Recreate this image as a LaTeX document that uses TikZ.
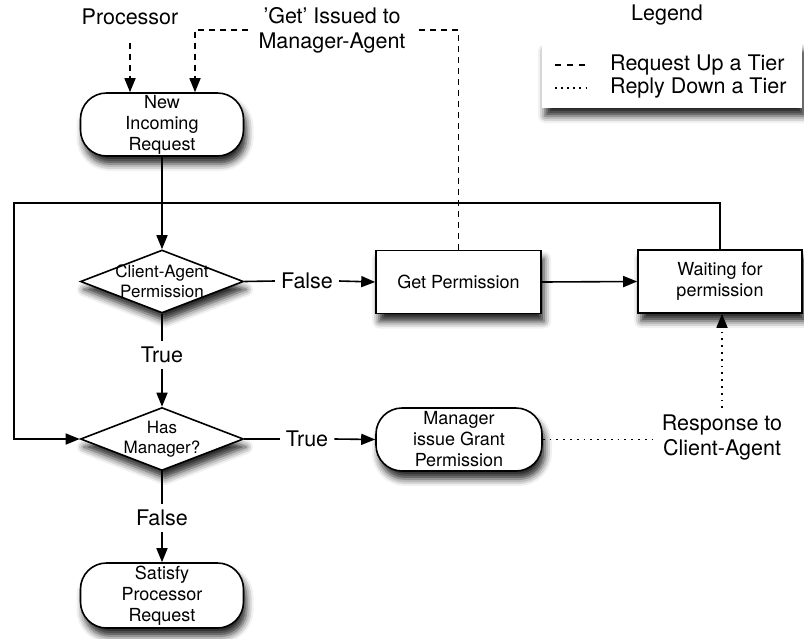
\documentclass[tikz,border=0pt]{standalone}
\usepackage{fontspec}
\setmainfont{TeX Gyre Heros}
\usetikzlibrary{arrows.meta,shapes.geometric,shadows.blur,calc}

\tikzset{
  base/.style={draw=black, line width=1.6pt, fill=white,
    blur shadow={shadow xshift=3pt, shadow yshift=-8pt,
                 shadow blur radius=7pt, shadow opacity=85}},
  inner/.style={font=\fontsize{18}{21}\selectfont, align=center},
  pill/.style={base, inner, rectangle, rounded corners=26pt,
    minimum width=163pt, minimum height=63pt, inner sep=0pt},
  procbox/.style={base, inner, rectangle,
    minimum width=165pt, minimum height=63pt, inner sep=0pt},
  decision/.style={base, diamond, minimum width=163pt,
    minimum height=63pt, inner sep=0pt},
  dtext/.style={align=center, font=\fontsize{17}{20}\selectfont, inner sep=0pt},
  lbl/.style={align=center, font=\fontsize{21.5}{25}\selectfont, inner sep=6pt},
  flow/.style={line width=1.6pt, draw=black},
  tip/.style={-{Triangle[length=14pt,width=11pt]}},
  request/.style={flow, dash pattern=on 6pt off 5pt},
  reply/.style={flow, dash pattern=on 1.8pt off 5pt},
}

\begin{document}
\begin{tikzpicture}[x=1pt, y=-1pt]
\useasboundingbox (0,0) rectangle (804,638);

% legend
\node[lbl] (legendtitle) at (667,15) {Legend};
\node[base, draw=none, rectangle,
      minimum width=260pt, minimum height=65pt] (legendbox) at (672,75.5) {};
\draw[flow, line width=1.3pt, dash pattern=on 6pt off 6pt] (555,65) -- (586,65);
\draw[flow, line width=1.3pt, dash pattern=on 1.6pt off 4.5pt] (555,88) -- (589,88);
\node[lbl, anchor=west, inner sep=0pt] (legreq) at (610,65) {Request Up a Tier};
\node[lbl, anchor=west, inner sep=0pt] (legrep) at (610,88) {Reply Down a Tier};

% process nodes
\node[pill] (newreq) at (162,124.5) {New\\Incoming\\Request};
\node[decision, label={[dtext]center:Client-Agent\\Permission}] (client) at (162,281.5) {};
\node[procbox] (getperm) at (458.5,282) {Get Permission};
\node[procbox, minimum width=164pt] (waiting) at (720,281.5) {Waiting for\\permission};
\node[decision, label={[dtext]center:Has\\Manager?}] (hasmgr) at (162,439) {};
\node[pill, minimum width=166pt] (grant) at (459,439.5) {Manager\\issue Grant\\Permission};
\node[pill, minimum height=65pt] (satisfy) at (162,595.5) {Satisfy\\Processor\\Request};

% free labels
\node[lbl] (processor) at (130,17) {Processor};
\node[lbl, inner xsep=10pt] (getissued) at (332,30) {'Get' Issued to\\Manager-Agent};
\node[lbl] (false1) at (307,281) {False};
\node[lbl] (true1) at (162,355) {True};
\node[lbl] (true2) at (307,439) {True};
\node[lbl] (false2) at (162,518) {False};
\node[lbl] (response) at (722,437) {Response to\\Client-Agent};
\coordinate (looptop) at (14,203);

% requests sent up a tier
\draw[request, tip] ([yshift=-12pt]processor.south) -- (processor.south |- newreq.north);
\draw[request] (getperm.north) |- (getissued.east);
\draw[request, tip] (getissued.west) -| ([xshift=33pt]newreq.north);

% main flow
\draw[flow, tip] (newreq.south) -- (client.north);
\draw[flow] (client.east) -- (false1.west);
\draw[flow, tip] (false1.east) -- (getperm.west);
\draw[flow, tip] (getperm.east) -- (waiting.west);
\draw[flow, tip] (waiting.north) |- (looptop) |- (hasmgr.west);
\draw[flow] (client.south) -- (true1.north);
\draw[flow, tip] (true1.south) -- (hasmgr.north);
\draw[flow] (hasmgr.east) -- (true2.west);
\draw[flow, tip] (true2.east) -- (grant.west);
\draw[flow] (hasmgr.south) -- (false2.north);
\draw[flow, tip] (false2.south) -- (satisfy.north);

% replies sent down a tier
\draw[reply] (grant.east) -- (grant.east -| response.west);
\draw[reply, tip] (response.north) -- (response.north |- waiting.south);
\end{tikzpicture}
\end{document}
